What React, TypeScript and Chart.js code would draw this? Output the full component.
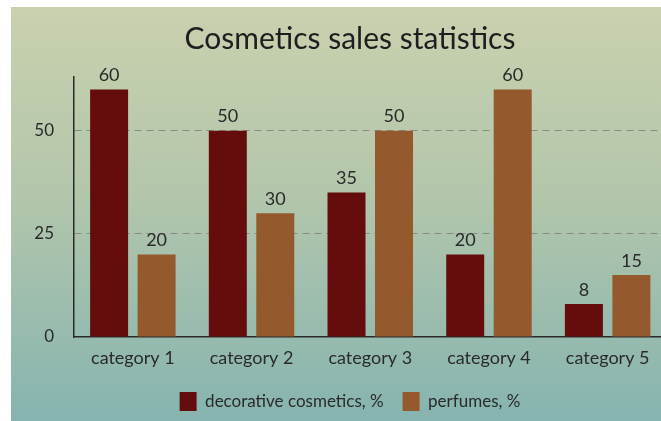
import React, { useEffect, useRef } from "react";
import { Chart, registerables } from "chart.js";

Chart.register(...registerables);

const categories = ["category 1", "category 2", "category 3", "category 4", "category 5"];
const decorative = [60, 50, 35, 20, 8];
const perfumes = [20, 30, 50, 60, 15];
const yTickValues = [0, 25, 50];
const seriesNames = ["decorative cosmetics, %", "perfumes, %"];
const titleText = "Cosmetics sales statistics";

const FONT = "Lato, 'Open Sans', sans-serif";
const TEXT = "#2a2a2a";

const valueLabels = {
  id: "valueLabels",
  afterDatasetsDraw(chart: any) {
    const ctx = chart.ctx;
    ctx.save();
    ctx.font = `18px ${FONT}`;
    ctx.fillStyle = TEXT;
    ctx.textAlign = "center";
    ctx.textBaseline = "bottom";
    chart.data.datasets.forEach((ds: any, i: number) => {
      const meta = chart.getDatasetMeta(i);
      meta.data.forEach((el: any, j: number) => {
        ctx.fillText(String(ds.data[j]), el.x, el.y - 5);
      });
    });
    ctx.restore();
  },
};

export default function App() {
  const ref = useRef<HTMLCanvasElement>(null);
  useEffect(() => {
    if (!ref.current) return;
    const chart = new Chart(ref.current, {
      type: "bar",
      data: {
        labels: categories,
        datasets: [
          { label: seriesNames[0], data: decorative, backgroundColor: "#650c0d", categoryPercentage: 0.8, barPercentage: 0.8 },
          { label: seriesNames[1], data: perfumes, backgroundColor: "#94592c", categoryPercentage: 0.8, barPercentage: 0.8 },
        ],
      },
      options: {
        animation: false,
        responsive: false,
        layout: { padding: { left: 22, right: 22, top: 0, bottom: 0 } },
        plugins: {
          title: {
            display: true,
            text: titleText,
            color: "#1e1e1e",
            font: { family: FONT, size: 30, weight: "normal" },
            padding: { top: 14, bottom: 20 },
          },
          legend: {
            position: "bottom",
            labels: {
              color: TEXT,
              font: { family: FONT, size: 17 },
              boxWidth: 17,
              boxHeight: 19,
              padding: 19,
            },
          },
          tooltip: { enabled: false },
        },
        scales: {
          x: {
            grid: { display: false, drawTicks: false },
            border: { display: true, color: "#2a2a2a", width: 1.5 },
            ticks: { color: TEXT, font: { family: FONT, size: 18 }, padding: 10 },
            afterFit: (s: any) => {
              s.height = 36;
            },
          },
          y: {
            min: 0,
            max: 63,
            afterBuildTicks: (s: any) => {
              s.ticks = yTickValues.map((v) => ({ value: v }));
            },
            grid: {
              drawTicks: false,
              color: (c: any) => (c.tick && c.tick.value === 0 ? "rgba(0,0,0,0)" : "#878c85"),
              lineWidth: 1,
            },
            border: { display: true, color: "#2a2a2a", width: 1.5, dash: [7, 5] },
            ticks: { color: TEXT, font: { family: FONT, size: 17 }, padding: 19.5 },
            afterFit: (s: any) => {
              s.width = 40.5;
            },
          },
        },
      },
      plugins: [valueLabels],
    } as any);
    return () => chart.destroy();
  }, []);

  return (
    <div
      style={{
        position: "fixed",
        left: 11,
        top: 7,
        width: 650,
        height: 414,
        overflow: "hidden",
        background: "linear-gradient(to bottom, #c9d1ae 0%, #b3c6ab 45%, #86b4b0 100%)",
      }}
    >
      <canvas ref={ref} width={678} height={414} style={{ display: "block", width: 678, height: 414 }} />
    </div>
  );
}
